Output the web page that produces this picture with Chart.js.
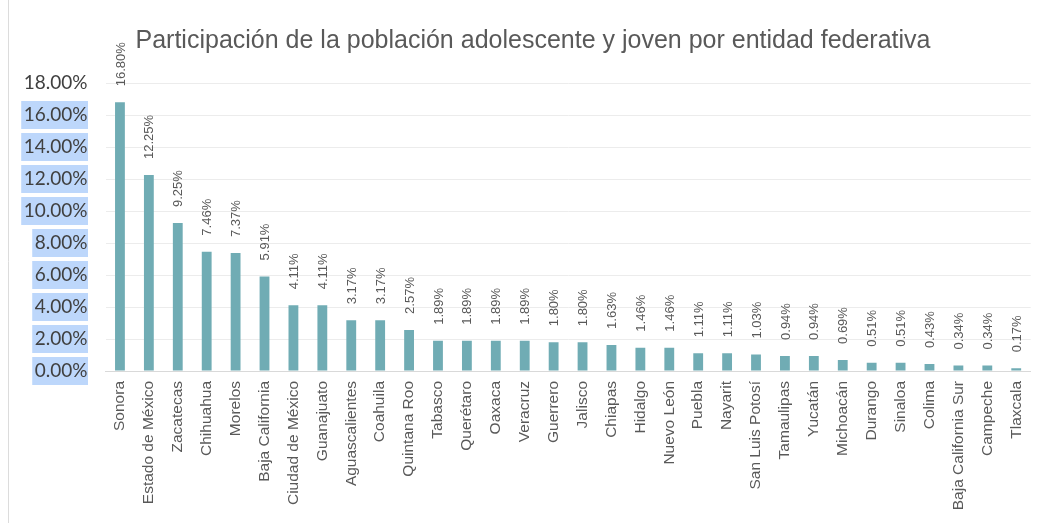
<!DOCTYPE html>
<html>
<head>
<meta charset="utf-8">
<script src="https://cdn.jsdelivr.net/npm/chart.js@4/dist/chart.umd.min.js"></script>
<style>
  html, body { margin: 0; padding: 0; background: #ffffff; }
  #wrap { width: 1045px; height: 523px; position: relative; }
</style>
</head>
<body>
<div id="wrap"><canvas id="c" width="1045" height="523"></canvas></div>
<script>
const titleText = 'Participación de la población adolescente y joven por entidad federativa';
const categories = ['Sonora','Estado de México','Zacatecas','Chihuahua','Morelos','Baja California','Ciudad de México','Guanajuato','Aguascalientes','Coahuila','Quintana Roo','Tabasco','Querétaro','Oaxaca','Veracruz','Guerrero','Jalisco','Chiapas','Hidalgo','Nuevo León','Puebla','Nayarit','San Luis Potosí','Tamaulipas','Yucatán','Michoacán','Durango','Sinaloa','Colima','Baja California Sur','Campeche','Tlaxcala'];
const values = [16.80,12.25,9.25,7.46,7.37,5.91,4.11,4.11,3.17,3.17,2.57,1.89,1.89,1.89,1.89,1.80,1.80,1.63,1.46,1.46,1.11,1.11,1.03,0.94,0.94,0.69,0.51,0.51,0.43,0.34,0.34,0.17];
const yMin = 0, yMax = 18, yStep = 2;

const decor = {
  id: 'decor',
  beforeDraw(chart) {
    const ctx = chart.ctx;
    ctx.save();
    ctx.fillStyle = '#ffffff';
    ctx.fillRect(0, 0, chart.width, chart.height);
    // left frame line
    ctx.strokeStyle = '#dcdcdc';
    ctx.lineWidth = 1;
    ctx.beginPath();
    ctx.moveTo(8.5, 0); ctx.lineTo(8.5, chart.height);
    ctx.stroke();
    // highlight boxes behind y tick labels (all except top)
    const ys = chart.scales.y;
    ctx.font = '19px Lato';
    ctx.fillStyle = '#bdd7fb';
    ys.ticks.forEach((t, i) => {
      if (t.value >= yMax) return;
      const y = ys.getPixelForValue(t.value);
      const label = t.value.toFixed(2) + '%';
      const w = ctx.measureText(label).width;
      const right = 87;
      ctx.fillRect(right - w - 2, y - 14, w + 3, 28);
    });
    ctx.restore();
  },
  afterDraw(chart) {
    const ctx = chart.ctx;
    ctx.save();
    // title
    ctx.font = '25px "Liberation Sans", Arial, sans-serif';
    ctx.fillStyle = '#595959';
    ctx.textAlign = 'center';
    ctx.textBaseline = 'alphabetic';
    ctx.fillText(titleText, 533, 48);
    // data labels
    const meta = chart.getDatasetMeta(0);
    ctx.font = '13px "Liberation Sans", Arial, sans-serif';
    ctx.fillStyle = '#595959';
    ctx.textAlign = 'left';
    ctx.textBaseline = 'middle';
    meta.data.forEach((bar, i) => {
      ctx.save();
      ctx.translate(bar.x + 1, bar.y - 16);
      ctx.rotate(-Math.PI / 2);
      ctx.fillText(values[i].toFixed(2) + '%', 0, 0);
      ctx.restore();
    });
    ctx.restore();
  }
};

new Chart(document.getElementById('c'), {
  type: 'bar',
  data: {
    labels: categories,
    datasets: [{
      data: values,
      backgroundColor: '#70acb4',
      borderWidth: 0,
      barPercentage: 0.34,
      categoryPercentage: 1.0
    }]
  },
  options: {
    responsive: false,
    animation: false,
    devicePixelRatio: 1,
    layout: { padding: { top: 83, right: 11.5, bottom: 0, left: 0 } },
    plugins: {
      legend: { display: false },
      title: { display: false },
      tooltip: { enabled: false }
    },
    scales: {
      x: {
        grid: { display: false, drawTicks: false },
        border: { display: true, color: '#d9d9d9', width: 1 },
        ticks: {
          color: '#595959',
          font: { family: '"Liberation Sans", Arial, sans-serif', size: 15.5 },
          minRotation: 90, maxRotation: 90,
          autoSkip: false,
          padding: 10
        },
        afterFit(s) { s.height = 152; }
      },
      y: {
        min: yMin, max: yMax,
        grid: { color: '#ececec', drawTicks: false, lineWidth: 1 },
        border: { display: false },
        ticks: {
          stepSize: yStep,
          color: '#404040',
          font: { family: 'Lato', size: 19 },
          padding: 18,
          callback: v => v.toFixed(2) + '%'
        },
        afterFit(s) { s.width = 105.5; }
      }
    }
  },
  plugins: [decor]
});
</script>
</body>
</html>
